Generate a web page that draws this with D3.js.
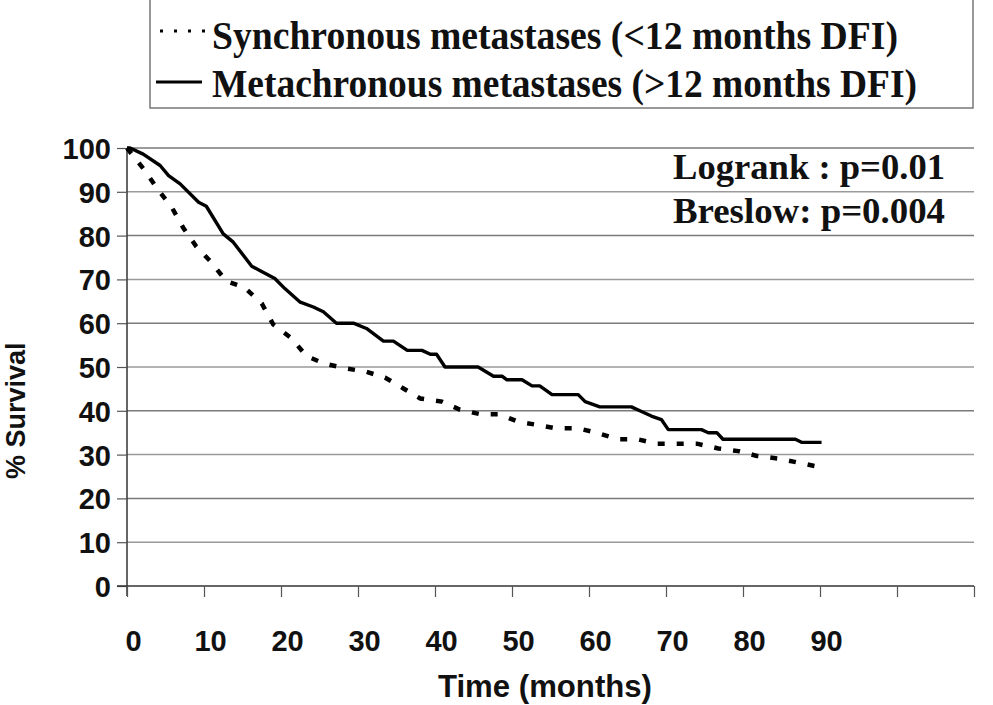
<!DOCTYPE html>
<html>
<head>
<meta charset="utf-8">
<script src="https://cdn.jsdelivr.net/npm/d3@7"></script>
<style>
  html, body { margin: 0; padding: 0; background: #fff; }
  svg { display: block; }
</style>
</head>
<body>
<div id="chart"></div>
<script>
// Months and % survival
const metaMonths = [0, 0.4, 2.1, 4.3, 5.4, 6.9, 9.3, 10.3, 12.5, 13.8, 16.2, 17.3, 19.2, 20.5, 22.5, 24.2, 25.5, 27.2, 29.4, 31.1, 33.3, 34.6, 36.4, 38.3, 39.4, 40.2, 41.3, 45.6, 47.6, 48.7, 49.3, 51.3, 52.6, 53.6, 55.2, 58.6, 59.5, 61.4, 65.5, 66.6, 68.1, 69.4, 70.3, 74.6, 75.5, 76.6, 77.4, 86.8, 87.6, 90.2];
const metaSurvival = [100, 100, 98.6, 96, 93.7, 91.8, 87.6, 86.7, 80.4, 78.5, 73, 72, 70.2, 67.9, 64.8, 63.7, 62.6, 60, 60, 58.8, 55.9, 55.9, 53.8, 53.8, 52.9, 52.9, 50, 50, 47.9, 47.9, 47.1, 47.1, 45.7, 45.7, 43.7, 43.7, 42.1, 40.9, 40.9, 40, 38.8, 38, 35.7, 35.7, 35, 35, 33.5, 33.5, 32.8, 32.8];

const syncMonths = [0, 2.3, 4.1, 5.8, 7.3, 9.0, 10.9, 12.9, 15.3, 17.5, 19.0, 21.4, 23.3, 25.6, 28.3, 30.9, 33.5, 35.9, 38.1, 40.9, 43.2, 45.9, 48.4, 50.8, 53.2, 55.7, 58.6, 61.0, 63.8, 66.3, 68.8, 71.6, 74.0, 76.8, 79.4, 81.8, 84.6, 87.1, 89.8];
const syncSurvival = [100, 94.9, 90.3, 86.5, 81.8, 77.5, 74, 69.6, 68.1, 64.5, 59.7, 56.5, 52.5, 50.8, 49.7, 49, 47.6, 45.1, 42.8, 42.1, 40.3, 39.2, 39.2, 37.5, 36.8, 36, 36, 35, 33.5, 33.5, 32.5, 32.5, 32.5, 31.4, 30.8, 29.7, 29.1, 28.2, 27.2];

const xTicks = [0, 10, 20, 30, 40, 50, 60, 70, 80, 90, 100, 110];
const xTickLabels = ['0', '10', '20', '30', '40', '50', '60', '70', '80', '90', '', ''];
const yTicks = [0, 10, 20, 30, 40, 50, 60, 70, 80, 90, 100];

const legendLabels = ['Synchronous metastases (<12 months DFI)', 'Metachronous metastases (>12 months DFI)'];
const statLabels = ['Logrank : p=0.01', 'Breslow: p=0.004'];

const width = 993;
const height = 705;
const sans = '"Liberation Sans", Arial, sans-serif';
const serif = '"Liberation Serif", "Times New Roman", serif';

const svg = d3.select('#chart')
    .append('svg')
    .attr('width', width)
    .attr('height', height);

// Scales
const x = d3.scaleLinear().domain([0, 110]).range([127, 974]);
const y = d3.scaleLinear().domain([0, 100]).range([586, 148]);

// Gridlines
svg.append('g')
    .selectAll('line')
    .data(yTicks.filter(d => d > 0))
    .join('line')
    .attr('x1', x(0))
    .attr('x2', x(110))
    .attr('y1', d => y(d))
    .attr('y2', d => y(d))
    .attr('stroke', (d, i) => i % 2 ? '#7a7a7a' : '#9a9a9a')
    .attr('stroke-width', 1.5);

// Y axis
const yAxis = svg.append('g')
    .attr('transform', `translate(${x(0)},0)`)
    .call(d3.axisLeft(y).tickValues(yTicks).tickSize(10).tickPadding(6));
yAxis.select('.domain').attr('d', `M0,${y(100)}V${y(0) + 10}`).attr('stroke', '#333').attr('stroke-width', 1.5);
yAxis.selectAll('.tick line').attr('stroke', '#555').attr('stroke-width', 1.2);
yAxis.selectAll('.tick text')
    .attr('font-family', sans)
    .attr('font-weight', 'bold')
    .attr('font-size', 29)
    .attr('fill', '#111')
    .attr('dy', '0.36em');

// X axis
const xAxis = svg.append('g')
    .attr('transform', `translate(0,${y(0)})`)
    .call(d3.axisBottom(x).tickValues(xTicks).tickSize(11).tickPadding(33)
        .tickFormat((d, i) => xTickLabels[i]));
xAxis.select('.domain').attr('d', `M${x(0) - 10},0H${x(110)}`).attr('stroke', '#333').attr('stroke-width', 1.5);
xAxis.selectAll('.tick line').attr('stroke', '#555').attr('stroke-width', 1.2);
xAxis.selectAll('.tick text')
    .attr('font-family', sans)
    .attr('font-weight', 'bold')
    .attr('font-size', 29)
    .attr('fill', '#111')
    .attr('dx', 6)
    .attr('dy', '0.72em');

// Axis titles
svg.append('text')
    .attr('transform', `translate(25,${y(40)})rotate(-90)`)
    .attr('text-anchor', 'middle')
    .attr('font-family', sans)
    .attr('font-weight', 'bold')
    .attr('font-size', 27)
    .attr('fill', '#111')
    .text('% Survival');

svg.append('text')
    .attr('x', 545)
    .attr('y', 697)
    .attr('text-anchor', 'middle')
    .attr('font-family', sans)
    .attr('font-weight', 'bold')
    .attr('font-size', 31)
    .attr('fill', '#111')
    .attr('textLength', 214)
    .attr('lengthAdjust', 'spacingAndGlyphs')
    .text('Time (months)');

// Curves
const line = d3.line()
    .x(d => x(d[0]))
    .y(d => y(d[1]));

const syncData = d3.zip(syncMonths, syncSurvival);
const metaData = d3.zip(metaMonths, metaSurvival);

svg.append('path')
    .datum(syncData)
    .attr('d', line)
    .attr('fill', 'none')
    .attr('stroke', '#000')
    .attr('stroke-width', 4.5)
    .attr('stroke-dasharray', '7,12');

svg.append('path')
    .datum(metaData)
    .attr('d', line)
    .attr('fill', 'none')
    .attr('stroke', '#000')
    .attr('stroke-width', 3.4)
    .attr('stroke-linejoin', 'round');

// Statistics
statLabels.forEach((label, i) => {
    svg.append('text')
        .attr('x', 673)
        .attr('y', 179 + i * 44)
        .attr('font-family', serif)
        .attr('font-weight', 'bold')
        .attr('font-size', 36)
        .attr('fill', '#111')
        .attr('textLength', 272)
        .attr('lengthAdjust', 'spacingAndGlyphs')
        .text(label);
});

// Legend
const legend = svg.append('g');
legend.append('rect')
    .attr('x', 150)
    .attr('y', -3)
    .attr('width', 823)
    .attr('height', 111)
    .attr('fill', 'none')
    .attr('stroke', '#777')
    .attr('stroke-width', 1.5);

legend.append('line')
    .attr('x1', 160).attr('x2', 206)
    .attr('y1', 31).attr('y2', 31)
    .attr('stroke', '#000')
    .attr('stroke-width', 3)
    .attr('stroke-dasharray', '3,11');

legend.append('line')
    .attr('x1', 156).attr('x2', 202)
    .attr('y1', 82).attr('y2', 82)
    .attr('stroke', '#000')
    .attr('stroke-width', 3);

const legendWidths = [686, 705];
legendLabels.forEach((label, i) => {
    legend.append('text')
        .attr('x', 212)
        .attr('y', 49 + i * 48)
        .attr('font-family', serif)
        .attr('font-weight', 'bold')
        .attr('font-size', 40)
        .attr('fill', '#111')
        .attr('textLength', legendWidths[i])
        .attr('lengthAdjust', 'spacingAndGlyphs')
        .text(label);
});
</script>
</body>
</html>
